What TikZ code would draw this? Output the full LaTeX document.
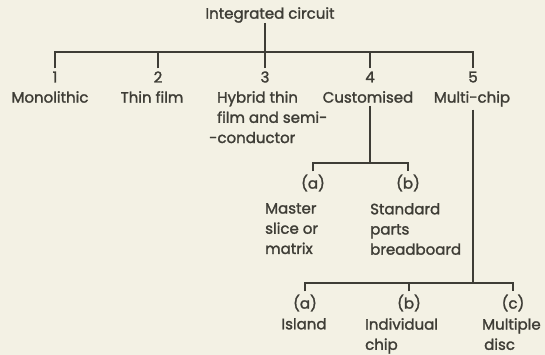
\documentclass[tikz,border=0pt]{standalone}
\usepackage{fontspec}
\setmainfont{Poppins}[FakeBold=1.6]
\definecolor{ink}{HTML}{3E3D36}
\definecolor{paper}{HTML}{F3F1E4}
\begin{document}
\begin{tikzpicture}[x=1pt,y=-1pt,
  every node/.style={text=ink,font=\fontsize{15}{20.2}\selectfont,inner sep=0pt},
  num/.style={inner sep=3pt},
  lab/.style={anchor=north},
  labl/.style={anchor=north west,align=left},
  link/.style={draw=ink,line width=1.8pt,line cap=butt}]
\fill[paper] (0,0) rectangle (545,355);
\useasboundingbox (0,0) rectangle (545,355);
% top
\node (top) at (270,15) {Integrated circuit};
\coordinate (t) at (265,52);
\node[num] (n1) at (55,77) {1};
\node[num] (n2) at (158,77) {2};
\node[num] (n3) at (265,77) {3};
\node[num] (n4) at (370,77) {4};
\node[num] (n5) at (473,77) {5};
\node[lab] (l1) at (50,91) {Monolithic};
\node[lab] (l2) at (152,91) {Thin film};
\node[labl] (l3) at (209,91) {\hspace*{8pt}Hybrid thin\\\hspace*{8pt}film and semi-\\-conductor};
\node[lab] (l4) at (368,91) {Customised};
\node[lab] (l5) at (472,91) {Multi-chip};
\draw[link] (top.south -| t) -- (t);
\draw[link] (n1.north) |- (t) -| (n5.north);
\draw[link] (n2.north) -- (n2.north |- t);
\draw[link] (n3.north) -- (n3.north |- t);
\draw[link] (n4.north) -- (n4.north |- t);
% customised
\coordinate (c4) at (370,163);
\node[num] (ca) at (313,183) {(a)};
\node[num] (cb) at (408,183) {(b)};
\node[labl] (cal) at (265,203) {Master\\slice or\\matrix};
\node[labl] (cbl) at (370,203) {Standard\\parts\\breadboard};
\draw[link] (l4.south -| c4) ++(0,3) -- (c4);
\draw[link] (ca.north) |- (c4) -| (cb.north);
% multi-chip
\coordinate (m5) at (473,283);
\node[num] (ma) at (305,303) {(a)};
\node[num] (mb) at (409,303) {(b)};
\node[num] (mc) at (513,303) {(c)};
\node[lab] (mal) at (304,318) {Island};
\node[labl] (mbl) at (365,318) {Individual\\chip};
\node[labl] (mcl) at (482,318) {Multiple\\\hspace*{2pt}disc};
\draw[link] (l5.south -| m5) ++(0,3) -- (m5);
\draw[link] (ma.north) |- (m5) -| (mc.north);
\draw[link] (mb.north) -- (mb.north |- m5);
\end{tikzpicture}
\end{document}
